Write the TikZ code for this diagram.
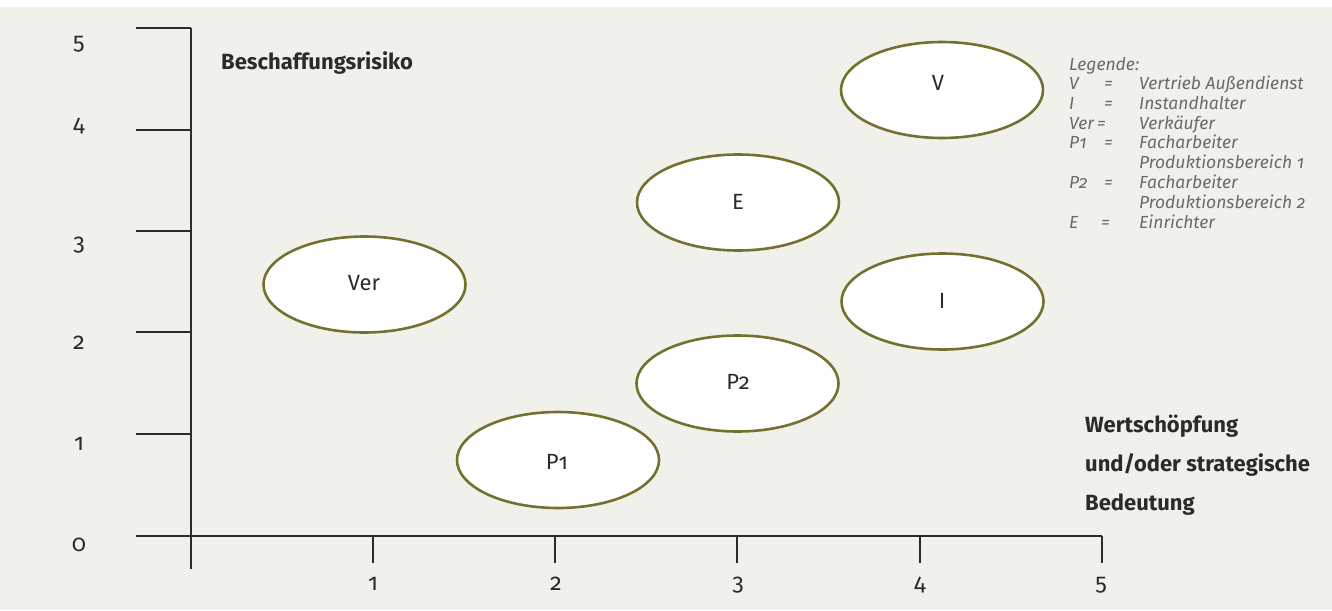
\documentclass[tikz,border=0pt]{standalone}
\usepackage{fontspec}
\setmainfont{Fira Sans}[Numbers=OldStyle]
\usetikzlibrary{shapes.geometric}
\definecolor{paper}{HTML}{F1F1EB}
\definecolor{olive}{HTML}{747130}
\definecolor{ink}{HTML}{2B2B2B}
\definecolor{legendgrey}{HTML}{6A6A6A}
\tikzset{
  axis/.style={draw=ink, line width=2pt},
  blob/.style={ellipse, draw=olive, line width=2.6pt, fill=white,
    minimum width=202pt, minimum height=96pt, inner sep=0pt},
  tag/.style={anchor=base, inner sep=0pt, text=ink, font=\fontsize{22}{22}\selectfont},
  ticklabel/.style={anchor=base, inner sep=0pt, text=ink, font=\fontsize{23.5}{24}\selectfont},
  headline/.style={anchor=base west, inner sep=0pt, text=ink, font=\fontsize{22}{22}\selectfont\bfseries},
  legend/.style={anchor=base west, inner sep=0pt, text=legendgrey, font=\fontsize{17.5}{18}\selectfont\itshape},
}
\begin{document}
\begin{tikzpicture}[x=1pt, y=-1pt]
  % canvas
  \useasboundingbox (0,0) rectangle (1332,610);
  \fill[white] (0,0) rectangle (1332,7);
  \fill[paper] (0,7) rectangle (1332,610);

  % vertical axis with tick marks
  \coordinate (ytop) at (191,28);
  \coordinate (ybot) at (191,569);
  \draw[axis] (ytop) -- (ybot);
  \foreach \name/\yy in {y5/28, y4/130, y3/231, y2/332, y1/434}{
    \coordinate (\name) at (191,\yy);
    \coordinate (\name s) at (136,\yy);
    \draw[axis] (\name s) -- (\name);
  }
  % horizontal axis with tick marks
  \coordinate (xl) at (136,536);
  \coordinate (xr) at (1102,536);
  \draw[axis] (xl) -- (xr);
  \foreach \name/\xx in {x1/373, x2/555, x3/737, x4/920, x5/1102}{
    \coordinate (\name) at (\xx,536);
    \coordinate (\name e) at (\xx,563);
    \draw[axis] (\name) -- (\name e);
  }

  % axis numbers
  \node[ticklabel] (ly5) at (79,50) {5};
  \node[ticklabel] (ly4) at (79,131) {4};
  \node[ticklabel] (ly3) at (79,250) {3};
  \node[ticklabel] (ly2) at (79,349) {2};
  \node[ticklabel] (ly1) at (79,450) {1};
  \node[ticklabel] (ly0) at (79,551) {0};
  \node[ticklabel] (lx1) at (373,590) {1};
  \node[ticklabel] (lx2) at (556,590) {2};
  \node[ticklabel] (lx3) at (738,590) {3};
  \node[ticklabel] (lx4) at (920,590) {4};
  \node[ticklabel] (lx5) at (1101,590) {5};

  % axis titles
  \node[headline] (risk) at (221,70) {Beschaffungsrisiko};
  \node[headline] (value1) at (1085,432) {Wertschöpfung};
  \node[headline] (value2) at (1085,471) {und/oder strategische};
  \node[headline] (value3) at (1085,510) {Bedeutung};

  % job groups
  \node[blob] (V)   at (942,90)  {};
  \node[blob] (E)   at (738,202.5) {};
  \node[blob] (Ver) at (364.5,284.5) {};
  \node[blob] (I)   at (942.5,301.5) {};
  \node[blob] (P2)  at (737.5,383.5) {};
  \node[blob] (P1)  at (558,460) {};
  \node[tag] (tV)   at (938,90)  {V};
  \node[tag] (tE)   at (738,209.5) {E};
  \node[tag] (tVer) at (364,290) {Ver};
  \node[tag] (tI)   at (942,308.5) {I};
  \node[tag] (tP2)  at (738,389) {P2};
  \node[tag] (tP1)  at (557,469) {P1};

  % legend
  \node[legend] (lg0) at (1069,70.5) {Legende:};
  \node[legend] (lgVk)  at (1069,89.5)  {V};
  \node[legend] (lgVe)  at (1104,89.5)  {=};
  \node[legend] (lgVt)  at (1139,89.5)  {Vertrieb Außendienst};
  \node[legend] (lgIk)  at (1069,109)   {I};
  \node[legend] (lgIe)  at (1104,109)   {=};
  \node[legend] (lgIt)  at (1139,109)   {Instandhalter};
  \node[legend] (lgRk)  at (1069,129)   {Ver\,=};
  \node[legend] (lgRt)  at (1139,129)   {Verkäufer};
  \node[legend] (lgAk)  at (1069,148.5) {P1};
  \node[legend] (lgAe)  at (1104,148.5) {=};
  \node[legend] (lgAt)  at (1139,148.5) {Facharbeiter};
  \node[legend] (lgAt2) at (1139,168.5) {Produktionsbereich 1};
  \node[legend] (lgBk)  at (1069,188)   {P2};
  \node[legend] (lgBe)  at (1104,188)   {=};
  \node[legend] (lgBt)  at (1139,188)   {Facharbeiter};
  \node[legend] (lgBt2) at (1139,208)   {Produktionsbereich 2};
  \node[legend] (lgEk)  at (1069,228)   {E};
  \node[legend] (lgEe)  at (1101,228)   {=};
  \node[legend] (lgEt)  at (1139,228)   {Einrichter};
\end{tikzpicture}
\end{document}
